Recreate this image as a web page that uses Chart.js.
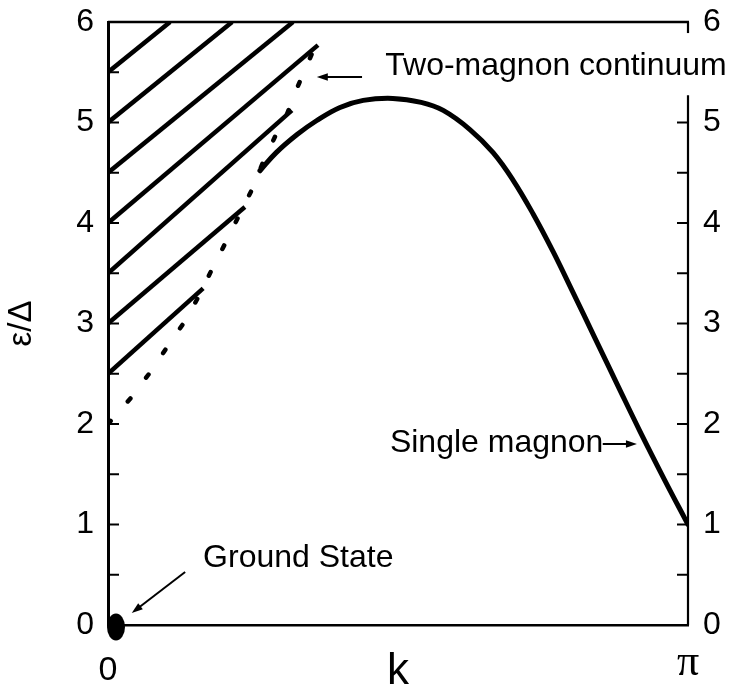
<!DOCTYPE html>
<html>
<head>
<meta charset="utf-8">
<script src="https://cdn.jsdelivr.net/npm/chart.js@4.4.1/dist/chart.umd.min.js"></script>
<style>
  html, body { margin: 0; padding: 0; background: #fff; }
  #wrap { width: 735px; height: 690px; }
</style>
</head>
<body>
<div id="wrap"><canvas id="c" width="735" height="690"></canvas></div>
<script>
// Wave vector k is stored in units of π (0 … 1); energies ε in units of the gap Δ.

// Single-magnon branch
const magnonK = [0.262, 0.290, 0.326, 0.360, 0.400, 0.440, 0.491, 0.540, 0.578, 0.624,
                 0.664, 0.698, 0.733, 0.767, 0.800, 0.840, 0.880, 0.917, 0.960, 1.000];
const magnonE = [4.52, 4.70, 4.88, 5.02, 5.15, 5.22, 5.24, 5.20, 5.12, 4.93,
                 4.70, 4.43, 4.09, 3.72, 3.33, 2.85, 2.37, 1.93, 1.44, 1.00];

// Lower edge of the two-magnon continuum (dotted)
const edgeK = [0, 0.041, 0.076, 0.107, 0.136, 0.159, 0.181, 0.205, 0.228, 0.248,
               0.267, 0.288, 0.309, 0.328, 0.352, 0.369];
const edgeE = [2.00, 2.27, 2.54, 2.81, 3.05, 3.30, 3.56, 3.83, 4.10, 4.33,
               4.60, 4.86, 5.09, 5.37, 5.69, 5.90];

// Hatching inside the continuum: each stroke starts on the k = 0 axis
const hatchStartE = [2.5, 3.0, 3.5, 4.0, 4.5, 5.0, 5.5];
const hatchEndK   = [0.164, 0.236, 0.317, 0.362, 0.319, 0.214, 0.107];
const hatchEndE   = [3.35, 4.16, 5.12, 5.77, 6.00, 6.00, 6.00];

// Ground state
const groundK = [0];
const groundE = [0];

// Axis ticks
const xTickValues = [0, 1];
const xTickLabels = ['0', 'π'];
const yTickLabels = ['0', '1', '2', '3', '4', '5', '6'];

const SANS = '"Liberation Sans", Arial, Helvetica, sans-serif';
const SERIF = '"Liberation Serif", "DejaVu Serif", serif';

function pts(xs, ys) { return xs.map((x, i) => ({ x: x, y: ys[i] })); }

// Filled oval marker for the ground state, drawn a little to the right of its anchor
function groundMarker() {
  const c = document.createElement('canvas');
  c.width = 40; c.height = 34;
  const g = c.getContext('2d');
  g.fillStyle = '#000';
  g.beginPath();
  g.ellipse(28, 19, 9, 13.5, 0, 0, Math.PI * 2);
  g.fill();
  return c;
}

const hatchSets = hatchStartE.map((e0, i) => ({
  data: [{ x: 0, y: e0 }, { x: hatchEndK[i], y: hatchEndE[i] }],
  showLine: true, borderColor: '#000', borderWidth: 4.5, pointRadius: 0,
  borderCapStyle: 'butt', tension: 0
}));

// Let the frame sit exactly where the layout padding puts it
function fixedBox(size, horizontal) {
  return s => {
    if (horizontal) s.height = size; else s.width = size;
    s.paddingTop = 0; s.paddingBottom = 0; s.paddingLeft = 0; s.paddingRight = 0;
  };
}

// Frame: top edge, broken right axis and inward tick marks
const framePlugin = {
  id: 'frame',
  beforeDatasetsDraw(chart, args, o) {
    const ctx = chart.ctx, a = chart.chartArea;
    const y = chart.scales.y, y2 = chart.scales.y2;
    ctx.save();
    ctx.strokeStyle = '#000';
    ctx.lineCap = 'butt';
    // top edge
    ctx.lineWidth = 2.5;
    ctx.beginPath();
    ctx.moveTo(a.left, a.top); ctx.lineTo(a.right + 1, a.top);
    ctx.stroke();
    // right axis, interrupted behind the continuum label
    ctx.lineWidth = 2.2;
    o.rightSpans.forEach(([e1, e2]) => {
      ctx.beginPath();
      ctx.moveTo(a.right, y2.getPixelForValue(e1));
      ctx.lineTo(a.right, y2.getPixelForValue(e2));
      ctx.stroke();
    });
    // inward ticks
    ctx.lineWidth = 2;
    o.leftTicks.forEach(v => {
      const p = y.getPixelForValue(v);
      ctx.beginPath(); ctx.moveTo(a.left, p); ctx.lineTo(a.left + o.tickLen, p); ctx.stroke();
    });
    o.rightTicks.forEach(v => {
      const p = y2.getPixelForValue(v);
      ctx.beginPath(); ctx.moveTo(a.right, p); ctx.lineTo(a.right - o.tickLen, p); ctx.stroke();
    });
    ctx.restore();
  }
};

// Text labels with pointer arrows, placed in data coordinates
const notePlugin = {
  id: 'notes',
  afterDatasetsDraw(chart, args, o) {
    const ctx = chart.ctx, xs = chart.scales.x, ys = chart.scales.y;
    const px = k => xs.getPixelForValue(k), py = e => ys.getPixelForValue(e);
    ctx.save();
    ctx.fillStyle = '#000';
    ctx.strokeStyle = '#000';
    ctx.font = o.font;
    ctx.textBaseline = 'alphabetic';
    ctx.textAlign = 'left';
    o.items.forEach(it => {
      ctx.fillText(it.text, px(it.at[0]), py(it.at[1]));
      const x1 = px(it.from[0]), y1 = py(it.from[1]);
      const x2 = px(it.to[0]),   y2 = py(it.to[1]);
      const ang = Math.atan2(y2 - y1, x2 - x1);
      const L = 11, W = 3.8;
      ctx.lineWidth = 2;
      ctx.beginPath();
      ctx.moveTo(x1, y1);
      ctx.lineTo(x2 - Math.cos(ang) * (L - 2), y2 - Math.sin(ang) * (L - 2));
      ctx.stroke();
      ctx.beginPath();
      ctx.moveTo(x2, y2);
      ctx.lineTo(x2 - L * Math.cos(ang) + W * Math.sin(ang), y2 - L * Math.sin(ang) - W * Math.cos(ang));
      ctx.lineTo(x2 - L * Math.cos(ang) - W * Math.sin(ang), y2 - L * Math.sin(ang) + W * Math.cos(ang));
      ctx.closePath();
      ctx.fill();
    });
    ctx.restore();
  }
};

new Chart(document.getElementById('c'), {
  type: 'scatter',
  data: {
    datasets: [
      ...hatchSets,
      {
        data: pts(edgeK, edgeE), showLine: true, borderColor: '#000', borderWidth: 4.5,
        borderDash: [4, 26], borderCapStyle: 'round', pointRadius: 0, tension: 0
      },
      {
        data: pts(magnonK, magnonE), showLine: true, borderColor: '#000', borderWidth: 5,
        pointRadius: 0, tension: 0.4, borderCapStyle: 'round'
      },
      {
        data: pts(groundK, groundE), showLine: false, pointStyle: groundMarker(),
        pointRadius: 10, clip: false
      }
    ]
  },
  options: {
    responsive: false,
    animation: false,
    events: [],
    layout: { padding: { top: 22, left: 0, right: 0, bottom: 0 } },
    plugins: {
      legend: { display: false },
      tooltip: { enabled: false },
      frame: {
        rightSpans: [[6, 5.89], [5.27, 0]],
        leftTicks: [0.5, 1, 1.5, 2, 2.5, 3, 3.5, 4, 4.5, 5, 5.5],
        rightTicks: [0.5, 1, 1.5, 2, 2.5, 3, 3.5, 4, 4.5, 5],
        tickLen: 11
      },
      notes: {
        font: '32px ' + SANS,
        items: [
          { text: 'Ground State', at: [0.164, 0.577], from: [0.133, 0.527], to: [0.041, 0.119] },
          { text: 'Two-magnon continuum', at: [0.478, 5.473], from: [0.438, 5.453], to: [0.360, 5.453] },
          { text: 'Single magnon', at: [0.486, 1.721], from: [0.853, 1.801], to: [0.912, 1.801] }
        ]
      }
    },
    scales: {
      x: {
        type: 'linear', position: 'bottom', min: 0, max: 1,
        grid: { display: false, drawTicks: false },
        border: { display: true, color: '#000', width: 2.5 },
        afterBuildTicks: s => { s.ticks = xTickValues.map(v => ({ value: v })); },
        afterFit: fixedBox(65, true),
        ticks: {
          padding: 25, color: '#000', maxRotation: 0, autoSkip: false,
          callback: (v, i) => xTickLabels[i],
          font: ctx => ctx.index === 1
            ? { family: SERIF, size: 44, lineHeight: 0.6 }
            : { family: SANS, size: 34, lineHeight: 1.2 }
        },
        title: {
          display: true, text: 'k', color: '#000',
          font: { family: SANS, size: 44, lineHeight: 1 },
          padding: { top: 0, bottom: -4 }
        }
      },
      y: {
        type: 'linear', position: 'left', min: 0, max: 6,
        grid: { display: false, drawTicks: false },
        border: { display: true, color: '#000', width: 3 },
        afterFit: fixedBox(108, false),
        ticks: {
          stepSize: 1, padding: 14, color: '#000',
          font: { family: SANS, size: 32 },
          callback: v => yTickLabels[v]
        },
        title: {
          display: true, text: 'ε/Δ', color: '#000',
          font: { family: SANS, size: 33, lineHeight: 1.2 },
          padding: { top: 2, bottom: 0 }
        }
      },
      y2: {
        type: 'linear', position: 'right', min: 0, max: 6,
        grid: { display: false, drawTicks: false },
        border: { display: false },
        afterFit: fixedBox(47, false),
        ticks: {
          stepSize: 1, padding: 15, color: '#000',
          font: { family: SANS, size: 32 },
          callback: v => yTickLabels[v]
        }
      }
    }
  },
  plugins: [framePlugin, notePlugin]
});
</script>
</body>
</html>
